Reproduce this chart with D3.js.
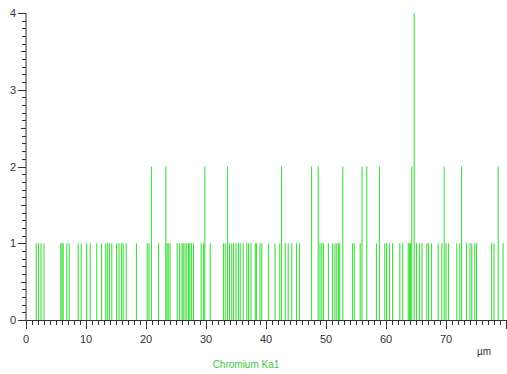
<!DOCTYPE html>
<html><head><meta charset="utf-8">
<script src="https://cdn.jsdelivr.net/npm/d3@7"></script>
<style>body{margin:0;background:#fff}svg{display:block}text{font-family:"Liberation Sans",Arial,sans-serif}</style>
</head><body>
<svg id="c" width="507" height="374"></svg>
<script>
// spike positions (µm) and counts
const positions = [1.7,2.1,2.5,3.0,5.8,6.0,6.2,6.8,7.2,8.7,9.2,10.1,10.7,11.8,12.6,13.3,13.6,13.9,14.3,
15.1,15.5,15.9,16.2,16.7,18.4,20.2,20.5,20.9,22.1,23.3,23.5,23.7,24.0,
25.2,25.6,26.0,26.2,26.5,26.8,27.1,27.3,27.6,27.9,29.2,29.6,29.8,30.7,
32.9,33.2,33.6,33.9,34.3,34.6,35.0,35.4,35.7,36.2,36.8,37.1,37.5,38.2,38.4,39.0,39.3,
40.4,41.5,42.3,42.6,43.2,43.7,44.3,45.1,45.6,47.6,48.7,49.0,49.3,49.6,50.4,51.1,51.5,51.8,52.1,52.3,52.8,
54.4,54.7,55.7,56.0,56.8,58.4,58.9,59.8,60.1,60.6,61.1,62.3,62.8,63.7,63.9,64.1,64.3,64.7,
65.1,65.6,66.0,66.8,67.1,67.6,68.7,69.3,69.7,70.0,70.4,71.8,72.3,72.6,73.4,74.0,74.3,74.8,75.1,
77.6,78.0,78.7,79.5];
const counts = [1,1,1,1,1,1,1,1,1,1,1,1,1,1,1,1,1,1,1,
1,1,1,1,1,1,1,1,2,1,2,1,1,1,
1,1,1,1,1,1,1,1,1,1,1,1,2,1,
1,1,2,1,1,1,1,1,1,1,1,1,1,1,1,1,1,
1,1,1,2,1,1,1,1,1,2,2,1,1,1,1,1,1,1,1,1,2,
1,1,1,2,2,1,2,1,1,1,1,1,1,1,1,1,2,4,
1,1,1,1,1,1,1,1,2,1,1,1,1,2,1,1,1,1,1,
1,1,2,1];
const xTicks = [0,10,20,30,40,50,60,70];
const yTicks = [0,1,2,3,4];
const xUnit = "µm";
const seriesName = "Chromium Ka1";

const svg = d3.select("#c");
const x = d3.scaleLinear().domain([0,80]).range([26,506]);
const y = d3.scaleLinear().domain([0,4]).range([320,13]);
const green = "#2edc2e", axisCol = "#333";

svg.append("g").selectAll("line").data(positions).join("line")
  .attr("x1",d=>x(d)).attr("x2",d=>x(d))
  .attr("y1",y(0)).attr("y2",(d,i)=>y(counts[i]))
  .attr("stroke",green).attr("stroke-width",1);

// y axis
const ya = svg.append("g");
ya.append("line").attr("x1",26).attr("x2",26).attr("y1",y(4)).attr("y2",y(0)).attr("stroke",axisCol);
const yMinor = d3.range(0,40.5,1).map(v=>v/10);
ya.selectAll("line.t").data(yMinor).join("line").attr("class","t")
  .attr("x1",d=>Math.abs(d-Math.round(d))<1e-6?18:(Math.abs(d*2-Math.round(d*2))<1e-6?21:22))
  .attr("x2",26).attr("y1",d=>Math.round(y(d))+0.5).attr("y2",d=>Math.round(y(d))+0.5)
  .attr("stroke",axisCol);
ya.selectAll("text").data(yTicks).join("text")
  .attr("x",16).attr("y",d=>y(d)+4).attr("text-anchor","end")
  .attr("font-size",11).attr("fill",axisCol).text(d=>d);

// x axis
const xa = svg.append("g");
xa.append("line").attr("x1",26).attr("x2",506).attr("y1",320.5).attr("y2",320.5).attr("stroke",axisCol);
xa.selectAll("line.t").data(d3.range(0,81,1)).join("line").attr("class","t")
  .attr("x1",d=>Math.round(x(d))+0.5).attr("x2",d=>Math.round(x(d))+0.5)
  .attr("y1",320).attr("y2",d=>d%10===0?329:325).attr("stroke",axisCol);
xa.selectAll("text").data(xTicks).join("text")
  .attr("x",d=>x(d)).attr("y",343).attr("text-anchor","middle")
  .attr("font-size",11).attr("fill",axisCol).text(d=>d);
svg.append("text").attr("x",477).attr("y",355).attr("font-size",10).attr("fill",axisCol).text(xUnit);
svg.append("text").attr("x",246).attr("y",368).attr("text-anchor","middle")
  .attr("font-size",10).attr("fill","#3cc83c").text(seriesName);
</script>
</body></html>
